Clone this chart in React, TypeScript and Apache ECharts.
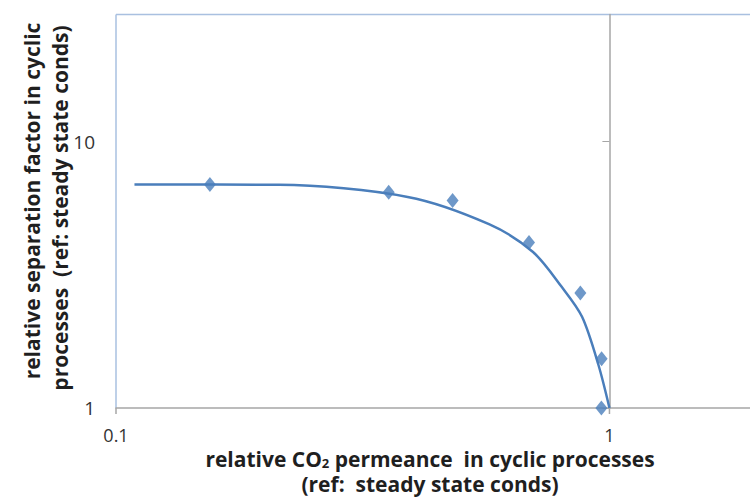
import React, { useEffect, useRef } from "react";
import * as echarts from "echarts";

const fitX = [0.109, 0.214, 0.39, 0.57, 0.7, 0.8, 0.88, 0.95, 1.0];
const fitY = [6.9, 6.88, 6.2, 4.9, 3.85, 2.85, 2.2, 1.45, 1.0];
const measX = [0.155, 0.357, 0.481, 0.687, 0.873, 0.964, 0.963];
const measY = [6.9, 6.46, 6.01, 4.18, 2.7, 1.53, 1.0];
const xTicks = [0.1, 1];
const yTicks = [1, 10];

const BLUE = "#4a7ebb";
const TFONT = "Open Sans";
const FRAME = "#a9c0e0";
const AXIS = "#a6a6a6";

export default function App() {
  const ref = useRef<HTMLDivElement>(null);
  useEffect(() => {
    if (!ref.current) return;
    const chart = echarts.init(ref.current, undefined, { renderer: "svg" });
    const titleStyle = {
      fontFamily: TFONT,
      fontWeight: "bold",
      fontSize: 21,
      fill: "#1f1f1f",
      align: "center",
      verticalAlign: "middle",
    };
    chart.setOption({
      animation: false,
      backgroundColor: "#ffffff",
      grid: {
        left: 116,
        right: 0,
        top: 14.5,
        bottom: 89,
        show: false,
      },
      xAxis: {
        type: "log",
        logBase: 10,
        min: 0.1,
        max: 2,
        axisLine: { show: true, lineStyle: { color: AXIS, width: 1.5 } },
        axisTick: { show: false },
        splitLine: { show: false },
        minorTick: { show: false },
        axisLabel: {
          customValues: xTicks,
          formatter: (v: number) => String(Math.round(v * 1000) / 1000),
          color: "#333333",
          fontFamily: TFONT,
          fontSize: 18,
          margin: 18,
        },
      },
      yAxis: [
        {
          type: "log",
          logBase: 10,
          min: 1,
          max: 30,
          axisLine: { show: false },
          axisTick: { show: false },
          splitLine: { show: false },
          axisLabel: {
            customValues: yTicks,
            formatter: (v: number) => String(Math.round(v * 1000) / 1000),
            color: "#333333",
            fontFamily: TFONT,
            fontSize: 19,
            margin: 21,
          },
        },
        {
          type: "log",
          logBase: 10,
          min: 1,
          max: 30,
          position: "left",
          offset: -493.4,
          axisLine: { show: true, lineStyle: { color: AXIS, width: 1.5 } },
          axisTick: { show: true, length: 7, customValues: yTicks, lineStyle: { color: AXIS } },
          splitLine: { show: false },
          axisLabel: { show: false },
        },
      ],
      series: [
        {
          type: "line",
          data: fitX.map((x, i) => [x, fitY[i]]),
          smooth: 0.3,
          showSymbol: false,
          symbol: "none",
          lineStyle: { color: BLUE, width: 2.5 },
          z: 2,
        },
        {
          type: "scatter",
          data: measX.map((x, i) => [x, measY[i]]),
          symbol: "diamond",
          symbolSize: [12, 15],
          itemStyle: { color: BLUE },
          z: 3,
        },
      ],
    });
    const px = (x: number, y: number) =>
      chart.convertToPixel({ xAxisIndex: 0, yAxisIndex: 0 }, [x, y]) as number[];
    const bl = px(0.1, 1);
    const tr = px(2, 30);
    const tickLines = xTicks.map((v) => {
      const p = px(v, 1);
      return {
        type: "line",
        shape: { x1: p[0], y1: p[1], x2: p[0], y2: p[1] + 6 },
        style: { stroke: AXIS, lineWidth: 1.5 },
        z: 5,
      };
    });
    chart.setOption({
      graphic: [
        {
          type: "line",
          shape: { x1: bl[0], y1: tr[1], x2: tr[0], y2: tr[1] },
          style: { stroke: FRAME, lineWidth: 1.5 },
          z: 0,
        },
        {
          type: "line",
          shape: { x1: bl[0], y1: tr[1], x2: bl[0], y2: bl[1] },
          style: { stroke: FRAME, lineWidth: 1.5 },
          z: 0,
        },
        ...tickLines,
        {
          type: "text",
          x: 430,
          y: 459,
          style: {
            ...titleStyle,
            text: "relative CO{sub|2} permeance  in cyclic processes",
            rich: {
              sub: {
                fontFamily: TFONT,
                fontWeight: "bold",
                fontSize: 13,
                fill: "#1f1f1f",
                padding: [7, 0, 0, 0],
              },
            },
          },
        },
        {
          type: "text",
          x: 430,
          y: 484,
          style: { ...titleStyle, text: "(ref:  steady state conds)" },
        },
        {
          type: "text",
          x: 32,
          y: 201,
          rotation: Math.PI / 2,
          style: { ...titleStyle, text: "relative separation factor in cyclic" },
        },
        {
          type: "text",
          x: 60,
          y: 208,
          rotation: Math.PI / 2,
          style: { ...titleStyle, text: "processes  (ref: steady state conds)" },
        },
      ],
    });
    return () => chart.dispose();
  }, []);
  return (
    <div style={{ position: "absolute", left: 0, top: 0, width: 750, height: 497, overflow: "hidden" }}>
      <div ref={ref} style={{ width: 758, height: 497 }} />
    </div>
  );
}
